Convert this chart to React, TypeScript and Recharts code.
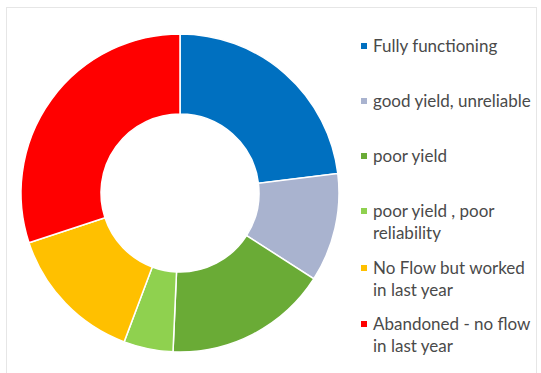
import { PieChart, Pie, Cell } from 'recharts'

const categories = [
  'Fully functioning',
  'good yield, unreliable',
  'poor yield',
  'poor yield , poor reliability',
  'No Flow but worked in last year',
  'Abandoned - no flow in last year',
]
// legend text split the way the original wraps it
const legendLines = [
  ['Fully functioning'],
  ['good yield, unreliable'],
  ['poor yield'],
  ['poor yield , poor', 'reliability'],
  ['No Flow but worked', 'in last year'],
  ['Abandoned - no flow', 'in last year'],
]
const values = [23, 11, 16.6, 5, 14.2, 30]
const colors = ['#0070c0', '#a9b3cf', '#6aab36', '#8fd14f', '#ffc000', '#ff0000']

const data = categories.map((name, i) => ({ name, value: values[i] }))

const legendTop = [46, 101, 156, 211, 268, 324]

export default function App() {
  return (
    <div style={{ position: 'relative', width: 541, height: 373, background: '#fff', fontFamily: 'Lato, sans-serif' }}>
      <style>{`body{margin:0}`}</style>
      <div style={{ position: 'absolute', left: 6, top: 7, width: 529, height: 380, border: '1px solid #e6e6e6' }} />
      <PieChart
        width={541}
        height={373}
        margin={{ top: 0, right: 0, bottom: 0, left: 0 }}
        style={{ position: 'absolute', left: 0, top: 0 }}
      >
        <Pie
          data={data}
          dataKey="value"
          nameKey="name"
          cx={180}
          cy={193}
          innerRadius={79}
          outerRadius={159}
          startAngle={90}
          endAngle={-270}
          stroke="#ffffff"
          strokeWidth={1.5}
          isAnimationActive={false}
        >
          {data.map((d, i) => (
            <Cell key={d.name} fill={colors[i]} />
          ))}
        </Pie>
      </PieChart>
      {legendLines.map((lines, i) => (
        <div key={i} style={{ position: 'absolute', left: 361, top: legendTop[i] - 11 }}>
          <span style={{ position: 'absolute', left: 0, top: 8, width: 6, height: 6, background: colors[i] }} />
          {lines.map((t, j) => (
            <div key={j} style={{ marginLeft: 12, fontSize: 17, lineHeight: '22px', color: '#4a4a4a', whiteSpace: 'nowrap' }}>
              {t}
            </div>
          ))}
        </div>
      ))}
    </div>
  )
}
